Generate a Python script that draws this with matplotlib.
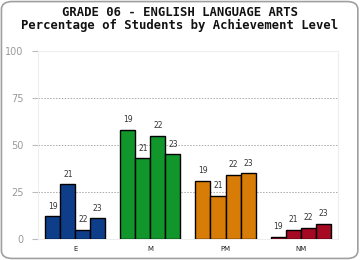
import numpy as np
import matplotlib
matplotlib.use("Agg")
from matplotlib import pyplot as plt
from matplotlib.patches import FancyBboxPatch

levels = ['E', 'M', 'PM', 'NM']
years = ['19', '21', '22', '23']
pct_e = [12, 29, 5, 11]
pct_m = [58, 43, 55, 45]
pct_pm = [31, 23, 34, 35]
pct_nm = [1, 5, 6, 8]
colors = ['#0e3e8a', '#10962a', '#d87c08', '#a50a22']

values = [pct_e, pct_m, pct_pm, pct_nm]

fig = plt.figure(figsize=(3.6, 2.6), dpi=100)
fig.patches.append(FancyBboxPatch((0.004, 0.006), 0.99, 0.988, boxstyle='round,pad=0,rounding_size=0.03',
                                  transform=fig.transFigure, fc='white', ec='#a0a0a0', lw=1.2,
                                  zorder=-10))

ax = fig.add_axes([37.7 / 360, 21 / 260, 300.5 / 360, 188 / 260])
ax.set_facecolor('none')

w = 0.2
for g, vals in enumerate(values):
    for i, v in enumerate(vals):
        x = g + 0.1 + w * i + w / 2
        ax.bar(x, v, width=w, color=colors[g], edgecolor='black', linewidth=1.0, zorder=3)
        ax.text(x, v + 3, years[i], ha='center', va='bottom', fontsize=5.5, color='#333333',
                family='DejaVu Sans')

ax.set_xlim(0, 4)
ax.set_ylim(0, 100)
ax.set_yticks([0, 25, 50, 75, 100])
ax.set_yticklabels(['0', '25', '50', '75', '100'])
ax.set_xticks(np.arange(4) + 0.5)
ax.set_xticklabels(levels)
ax.tick_params(axis='y', colors='#bbbbbb', labelcolor='#999999', labelsize=7, length=4, width=0.8, pad=6)
ax.tick_params(axis='x', length=0, labelsize=5, labelcolor='#222222', pad=5)
for y in [25, 50, 75]:
    ax.axhline(y, color='#aaaaaa', lw=0.7, ls=(0, (1.5, 1.5)), zorder=1)
ax.axhline(100, color='#eeeeee', lw=0.8, zorder=1)
for s in ['left', 'right', 'bottom']:
    ax.spines[s].set_color('#eeeeee')
    ax.spines[s].set_linewidth(0.8)
ax.spines['top'].set_visible(False)

fig.text(0.5, 0.95, 'GRADE 06 - ENGLISH LANGUAGE ARTS', ha='center', va='center',
         family='DejaVu Sans Mono', fontweight='bold', fontsize=8.8, color='#111111')
fig.text(0.5, 0.902, 'Percentage of Students by Achievement Level', ha='center', va='center',
         family='DejaVu Sans Mono', fontweight='bold', fontsize=8.8, color='#111111')

fig.savefig('out.png', dpi=100)
